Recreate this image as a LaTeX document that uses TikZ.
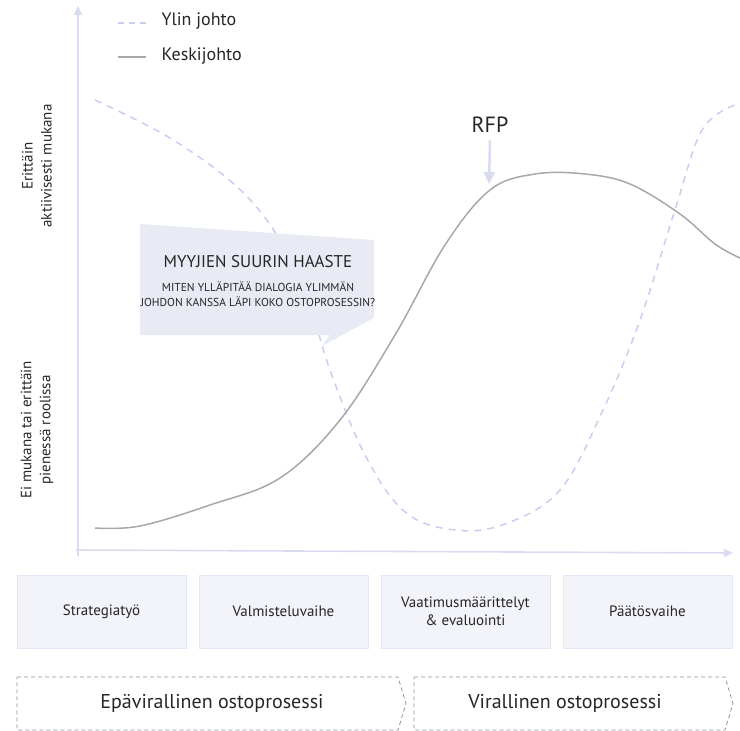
\documentclass[tikz,border=0pt]{standalone}
\usepackage{fontspec}
\setmainfont{PT Sans}
\usetikzlibrary{arrows.meta}
\definecolor{axis}{HTML}{D9DCF0}
\definecolor{dashc}{HTML}{C9CEF0}
\definecolor{solidc}{HTML}{A8A8A8}
\definecolor{boxfill}{HTML}{F3F4FA}
\definecolor{boxline}{HTML}{E3E6F4}
\definecolor{callfill}{HTML}{E8EAF4}
\definecolor{txt}{HTML}{262626}
\definecolor{procline}{HTML}{8E93A8}
\begin{document}
\begin{tikzpicture}[x=1pt,y=-1pt,
  axisline/.style={draw=axis,line width=1.6pt,-{Triangle[length=9pt,width=8pt]}},
  topcurve/.style={draw=dashc,line width=1.5pt,dash pattern=on 7pt off 6pt},
  midcurve/.style={draw=solidc,line width=1.5pt},
  phasebox/.style={draw=boxline,fill=boxfill,line width=1pt,minimum width=169pt,minimum height=73pt,align=center,font=\fontsize{15}{18}\selectfont,text=txt,inner sep=0pt},
  lbl/.style={font=\fontsize{18}{20}\selectfont,text=txt},
  ylbl/.style={font=\fontsize{15}{19}\selectfont,text=txt,align=center,rotate=90},
  proc/.style={draw=procline,line width=0.8pt,dash pattern=on 4pt off 3pt},
  proctxt/.style={font=\fontsize{20}{24}\selectfont,text=txt}
]
\useasboundingbox (0,0) rectangle (740,731);
% axes
\coordinate (ytop) at (78,6);
\coordinate (xend) at (733,553);
\draw[axisline] (78,556) -- (ytop);
\draw[axisline] (76,550) -- (xend);
% legend
\coordinate (l1a) at (118,23); \coordinate (l1b) at (146,23);
\coordinate (l2a) at (118,57); \coordinate (l2b) at (146,57);
\draw[topcurve,dash pattern=on 6pt off 5pt] (l1a) -- (l1b);
\draw[midcurve] (l2a) -- (l2b);
\node[lbl,anchor=west] (leg1) at (158,21) {Ylin johto};
\node[lbl,anchor=west] (leg2) at (158,56) {Keskijohto};
% y labels
\node[ylbl] (yhigh) at (37,166) {Erittäin\\aktiivisesti mukana};
\node[ylbl] (ylow) at (37,430) {Ei mukana tai erittäin\\pienessä roolissa};
% curves
\draw[topcurve] plot[smooth,tension=0.6] coordinates {(95,100) (170,138) (235,185) (275,232) (305,290) (330,370) (365,455) (405,512) (455,530) (505,524) (560,490) (603,410) (640,320) (675,210) (702,130) (735,105)};
\draw[midcurve] plot[smooth,tension=0.6] coordinates {(95,528) (140,526) (210,505) (280,478) (340,420) (395,335) (445,245) (490,190) (535,174) (585,174) (630,184) (680,214) (715,244) (740,258)};
% callout
\fill[callfill] (140,224) -- (374,240) -- (374,318) -- (322,346) -- (330,335) -- (140,335) -- cycle;
\node[font=\fontsize{17}{19}\selectfont,text=txt] (ctitle) at (258,262) {MYYJIEN SUURIN HAASTE};
\node[font=\fontsize{11.5}{15}\selectfont,text=txt,align=center] (ctext) at (258,294) {MITEN YLLÄPITÄÄ DIALOGIA YLIMMÄN\\JOHDON KANSSA LÄPI KOKO OSTOPROSESSIN?};
% RFP
\node[font=\fontsize{22}{26}\selectfont,text=txt] (rfp) at (490,125) {RFP};
\coordinate (rfpend) at (489,184);
\draw[draw=axis,line width=2.5pt,-{Triangle[length=12pt,width=11pt]}] (rfp.south) ++(0,4) -- (rfpend);
% phase boxes
\node[phasebox] (p1) at (101.5,611.5) {Strategiatyö};
\node[phasebox] (p2) at (283.5,611.5) {Valmisteluvaihe};
\node[phasebox] (p3) at (465.5,611.5) {Vaatimusmäärittelyt\\\& evaluointi};
\node[phasebox] (p4) at (647.5,611.5) {Päätösvaihe};
% process arrows
\draw[proc] (17,677) -- (398,677) -- (406,703.5) -- (398,730) -- (17,730) -- cycle;
\draw[proc] (414,677) -- (725,677) -- (733,703.5) -- (725,730) -- (414,730) -- cycle;
\node[proctxt] (pr1) at (212,703) {Epävirallinen ostoprosessi};
\node[proctxt] (pr2) at (565,703) {Virallinen ostoprosessi};
\end{tikzpicture}
\end{document}
